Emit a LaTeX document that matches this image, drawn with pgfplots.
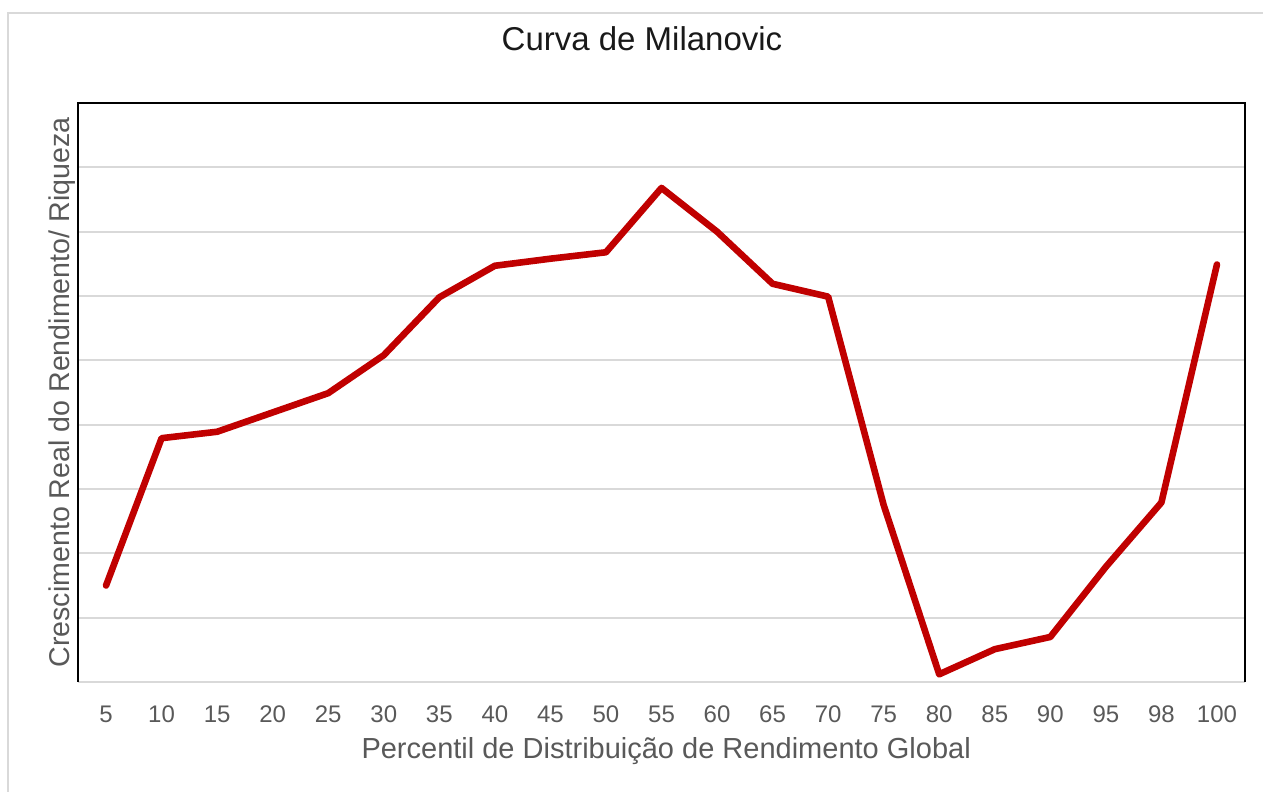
\documentclass[border=0pt]{standalone}
\usepackage{pgfplots}
\pgfplotsset{compat=1.18}
\usepackage{fontspec}
\setmainfont{Liberation Sans}
\definecolor{redline}{HTML}{C00000}
\definecolor{gridgray}{HTML}{D9D9D9}
\definecolor{labgray}{HTML}{595959}
\begin{document}
\begin{tikzpicture}
\useasboundingbox (-39pt,-55pt) rectangle (592.5pt,341pt);
\draw[gridgray, line width=1pt] (-35pt,-56pt) -- (-35pt,334.5pt) -- (593pt,334.5pt);
\begin{axis}[
  at={(0pt,0pt)}, anchor=south west,
  scale only axis,
  width=583.5pt, height=289.5pt,
  xmin=-0.505, xmax=20.505,
  ymin=0, ymax=9,
  xtick={0,...,20},
  xticklabels={5,10,15,20,25,30,35,40,45,50,55,60,65,70,75,80,85,90,95,98,100},
  ytick={0,...,8},
  yticklabels={},
  major tick length=0pt,
  ymajorgrids=true,
  grid style={gridgray, line width=1pt},
  axis line style={draw=none},
  tick style={draw=none},
  xticklabel style={font=\fontsize{12}{14}\selectfont, text=labgray, anchor=base, yshift=-20pt},
  xlabel={Percentil de Distribuição de Rendimento Global},
  xlabel style={at={([yshift=-38pt]axis description cs:0.504,0)}, anchor=base, font=\fontsize{14.5}{16}\selectfont, text=labgray},
  ylabel={Crescimento Real do Rendimento/ Riqueza},
  ylabel style={at={([xshift=-4pt]axis description cs:0,0.5)}, anchor=base, rotate=0, font=\fontsize{14.3}{16}\selectfont, text=labgray},
  title={Curva de Milanovic},
  title style={at={([yshift=20.5pt]axis description cs:0.4833,1)}, anchor=base, font=\fontsize{16.5}{19}\selectfont, text=black!90},
  after end axis/.code={
    \draw[black, line width=1pt] (rel axis cs:0,0) -- (rel axis cs:0,1) -- (rel axis cs:1,1) -- (rel axis cs:1,0);
  },
  clip=false,
]
\addplot[redline, line width=3.3pt, line join=round, line cap=round] coordinates {
(0,1.50) (1,3.79) (2,3.89) (3,4.19) (4,4.49) (5,5.08) (6,5.98) (7,6.47) (8,6.58) (9,6.68)
(10,7.68) (11,7.00) (12,6.19) (13,5.99) (14,2.75) (15,0.12) (16,0.51) (17,0.70) (18,1.79) (19,2.79) (20,6.49)
};
\end{axis}
\end{tikzpicture}
\end{document}
